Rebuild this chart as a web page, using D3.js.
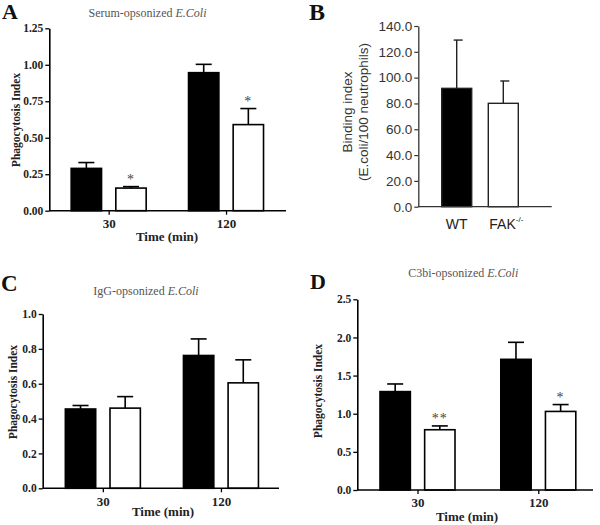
<!DOCTYPE html>
<html>
<head>
<meta charset="utf-8">
<script src="https://cdn.jsdelivr.net/npm/d3@7"></script>
<style>
  html, body { margin: 0; padding: 0; background: #fff; }
  svg { display: block; }
</style>
</head>
<body>
<svg id="chart" width="600" height="525"></svg>
<script>
// ---------- DATA ----------
const timeGroups = ["30", "120"];
const seriesNames = ["WT", "FAK"];

// Panel A: Serum-opsonized E.Coli
const serumWT = [0.29, 0.946];
const serumWTErr = [0.04, 0.057];
const serumFAK = [0.155, 0.59];
const serumFAKErr = [0.01, 0.11];
const serumSig = ["*", "*"];
const serumTicks = [0, 0.25, 0.5, 0.75, 1.0, 1.25];

// Panel B: Binding index
const bindingGroups = ["WT", "FAK"];
const bindingValues = [91.7, 80.1];
const bindingErr = [37.4, 17.3];
const bindingTicks = [0, 20, 40, 60, 80, 100, 120, 140];

// Panel C: IgG-opsonized E.Coli
const iggWT = [0.455, 0.762];
const iggWTErr = [0.02, 0.095];
const iggFAK = [0.46, 0.605];
const iggFAKErr = [0.066, 0.132];
const iggSig = ["", ""];
const iggTicks = [0, 0.2, 0.4, 0.6, 0.8, 1.0];

// Panel D: C3bi-opsonized E.Coli
const c3biWT = [1.29, 1.713];
const c3biWTErr = [0.10, 0.223];
const c3biFAK = [0.79, 1.03];
const c3biFAKErr = [0.05, 0.09];
const c3biSig = ["**", "*"];
const c3biTicks = [0, 0.5, 1.0, 1.5, 2.0, 2.5];

// ---------- DRAW ----------
const svg = d3.select("#chart");
const SERIF = "'Liberation Serif', 'Times New Roman', serif";
const SANS = "'Liberation Sans', Arial, sans-serif";

function panelLetter(txt, x, y, size) {
  svg.append("text").attr("x", x).attr("y", y)
    .attr("font-family", SERIF).attr("font-weight", "bold")
    .attr("font-size", size).attr("fill", "#111").text(txt);
}

function timePanel(cfg) {
  const g = svg.append("g");
  const y = d3.scaleLinear().domain(cfg.yDomain).range(cfg.yRange);
  const x = d3.scalePoint().domain(timeGroups).range(cfg.xRange).padding(0.5);
  const inner = d3.scaleBand().domain(seriesNames).range([-37.5, 37.5]).paddingInner(0.32);

  const rows = [];
  timeGroups.forEach((t, i) => {
    rows.push({t, s: "WT", v: cfg.wt[i], e: cfg.wtErr[i], sig: ""});
    rows.push({t, s: "FAK", v: cfg.fak[i], e: cfg.fakErr[i], sig: cfg.sig[i]});
  });
  const cx = d => x(d.t) + inner(d.s) + inner.bandwidth() / 2;

  // error bars (drawn behind bars)
  const eb = g.selectAll(".eb").data(rows).join("g");
  eb.append("line")
    .attr("x1", cx).attr("x2", cx)
    .attr("y1", d => y(d.v)).attr("y2", d => y(d.v + d.e))
    .attr("stroke", "#000").attr("stroke-width", 1.6);
  eb.append("line")
    .attr("x1", d => cx(d) - 8).attr("x2", d => cx(d) + 8)
    .attr("y1", d => y(d.v + d.e)).attr("y2", d => y(d.v + d.e))
    .attr("stroke", "#000").attr("stroke-width", 1.6);

  g.selectAll(".bar").data(rows).join("rect")
    .attr("x", d => x(d.t) + inner(d.s))
    .attr("width", inner.bandwidth())
    .attr("y", d => y(d.v))
    .attr("height", d => y(0) - y(d.v))
    .attr("fill", d => d.s === "WT" ? "#000" : "#fff")
    .attr("stroke", "#000").attr("stroke-width", 1.6);

  // significance stars
  g.selectAll(".sig").data(rows.filter(d => d.sig)).join("text")
    .attr("x", cx)
    .attr("y", d => y(d.v + d.e) - 3)
    .attr("text-anchor", "middle")
    .attr("font-family", SERIF).attr("font-size", 14)
    .attr("fill", "#444").attr("letter-spacing", 1)
    .text(d => d.sig);

  // y axis
  const ya = g.append("g").attr("transform", `translate(${cfg.yAxisX},0)`)
    .call(d3.axisLeft(y).tickValues(cfg.ticks).tickFormat(d3.format(cfg.fmt)).tickSize(4).tickPadding(2).tickSizeOuter(0));
  ya.select(".domain").attr("stroke", "#000").attr("stroke-width", 1.6);
  ya.selectAll(".tick line").attr("stroke", "#000").attr("stroke-width", 1.3);
  ya.selectAll(".tick text").attr("font-family", SERIF).attr("font-weight", "bold")
    .attr("font-size", 11.5).attr("fill", "#222");

  // x axis baseline
  g.append("line").attr("x1", cfg.yAxisX).attr("x2", cfg.xEnd)
    .attr("y1", y(0)).attr("y2", y(0)).attr("stroke", "#000").attr("stroke-width", 1.6);
  const xa = g.append("g").attr("transform", `translate(0,${y(0)})`)
    .call(d3.axisBottom(x).tickSize(4).tickPadding(4).tickSizeOuter(0));
  xa.select(".domain").remove();
  xa.selectAll(".tick line").attr("stroke", "#000").attr("stroke-width", 1.3);
  xa.selectAll(".tick text").attr("font-family", SERIF).attr("font-weight", "bold")
    .attr("font-size", 13).attr("fill", "#222");

  // titles
  const tt = g.append("text").attr("x", cfg.titleX).attr("y", cfg.titleY)
    .attr("text-anchor", "middle").attr("font-family", SERIF)
    .attr("font-size", 12).attr("fill", "#555");
  tt.append("tspan").text(cfg.title + " ");
  tt.append("tspan").attr("font-style", "italic").text("E.Coli");

  g.append("text").attr("x", cfg.xTitleX).attr("y", cfg.xTitleY)
    .attr("text-anchor", "middle").attr("font-family", SERIF).attr("font-weight", "bold")
    .attr("font-size", 13).attr("fill", "#222").text("Time (min)");

  g.append("text").attr("transform", `translate(${cfg.yTitleX},${cfg.yTitleY}) rotate(-90)`)
    .attr("text-anchor", "middle").attr("font-family", SERIF).attr("font-weight", "bold")
    .attr("font-size", 11.5).attr("fill", "#222").text("Phagocytosis Index");
}

// Panel A
panelLetter("A", 2, 19, 22);
timePanel({
  wt: serumWT, wtErr: serumWTErr, fak: serumFAK, fakErr: serumFAKErr, sig: serumSig,
  yDomain: [0, 1.25], yRange: [210.7, 28.3], ticks: serumTicks, fmt: ".2f",
  xRange: [50, 284.7], yAxisX: 49.3, xEnd: 286,
  title: "Serum-opsonized", titleX: 147.5, titleY: 17,
  xTitleX: 167, xTitleY: 241, yTitleX: 19.5, yTitleY: 120
});

// Panel C
panelLetter("C", 1, 291, 23);
timePanel({
  wt: iggWT, wtErr: iggWTErr, fak: iggFAK, fakErr: iggFAKErr, sig: iggSig,
  yDomain: [0, 1.0], yRange: [488.3, 314], ticks: iggTicks, fmt: ".1f",
  xRange: [43.8, 280], yAxisX: 42.7, xEnd: 279,
  title: "IgG-opsonized", titleX: 146, titleY: 295,
  xTitleX: 163, xTitleY: 516, yTitleX: 16.5, yTitleY: 392
});

// Panel D
panelLetter("D", 310, 288.5, 22);
timePanel({
  wt: c3biWT, wtErr: c3biWTErr, fak: c3biFAK, fakErr: c3biFAKErr, sig: c3biSig,
  yDomain: [0, 2.5], yRange: [490, 299.3], ticks: c3biTicks, fmt: ".1f",
  xRange: [357.1, 598.7], yAxisX: 357.3, xEnd: 593,
  title: "C3bi-opsonized", titleX: 463.3, titleY: 277,
  xTitleX: 467, xTitleY: 521, yTitleX: 322, yTitleY: 391
});

// Panel B
panelLetter("B", 309, 20, 24);
(function () {
  const g = svg.append("g");
  const y = d3.scaleLinear().domain([0, 140]).range([206.7, 26]);
  const x = d3.scaleBand().domain(bindingGroups).range([441.7, 518.3]).paddingInner(0.356);
  const rows = bindingGroups.map((k, i) => ({k, v: bindingValues[i], e: bindingErr[i]}));
  const cx = d => x(d.k) + x.bandwidth() / 2;

  const eb = g.selectAll(".eb").data(rows).join("g");
  eb.append("line")
    .attr("x1", cx).attr("x2", cx)
    .attr("y1", d => y(d.v)).attr("y2", d => y(d.v + d.e))
    .attr("stroke", "#222").attr("stroke-width", 1.4);
  eb.append("line")
    .attr("x1", d => cx(d) - 3).attr("x2", d => cx(d) + 6)
    .attr("y1", d => y(d.v + d.e)).attr("y2", d => y(d.v + d.e))
    .attr("stroke", "#222").attr("stroke-width", 1.4);

  g.selectAll(".bar").data(rows).join("rect")
    .attr("x", d => x(d.k)).attr("width", x.bandwidth())
    .attr("y", d => y(d.v)).attr("height", d => y(0) - y(d.v))
    .attr("fill", (d, i) => i === 0 ? "#000" : "#fff")
    .attr("stroke", "#222").attr("stroke-width", 1.4);

  const ya = g.append("g").attr("transform", "translate(418.3,0)")
    .call(d3.axisLeft(y).tickValues(bindingTicks).tickFormat(d3.format(".1f")).tickSize(4).tickPadding(2).tickSizeOuter(0));
  ya.select(".domain").attr("stroke", "#333").attr("stroke-width", 1.3);
  ya.selectAll(".tick line").attr("stroke", "#333").attr("stroke-width", 1.2);
  ya.selectAll(".tick text").attr("font-family", SANS).attr("font-size", 13.5).attr("fill", "#333");

  g.append("line").attr("x1", 418.3).attr("x2", 551.7).attr("y1", y(0)).attr("y2", y(0))
    .attr("stroke", "#333").attr("stroke-width", 1.3);

  // category labels
  g.append("text").attr("x", cx(rows[0])).attr("y", 229)
    .attr("text-anchor", "middle").attr("font-family", SANS).attr("font-size", 14)
    .attr("fill", "#222").text("WT");
  const fk = g.append("text").attr("x", cx(rows[1]) + 3).attr("y", 229)
    .attr("text-anchor", "middle").attr("font-family", SANS).attr("font-size", 14)
    .attr("fill", "#222");
  fk.append("tspan").text("FAK");
  fk.append("tspan").attr("dy", -7).attr("font-size", 8).text("-/-");

  const yl = g.append("text").attr("transform", "translate(352,112) rotate(-90)")
    .attr("text-anchor", "middle").attr("font-family", SANS).attr("font-size", 13.5).attr("fill", "#333");
  yl.append("tspan").attr("x", 0).attr("y", 0).text("Binding index");
  yl.append("tspan").attr("x", 0).attr("y", 16.3).text("(E.coli/100 neutrophils)");
})();
</script>
</body>
</html>
